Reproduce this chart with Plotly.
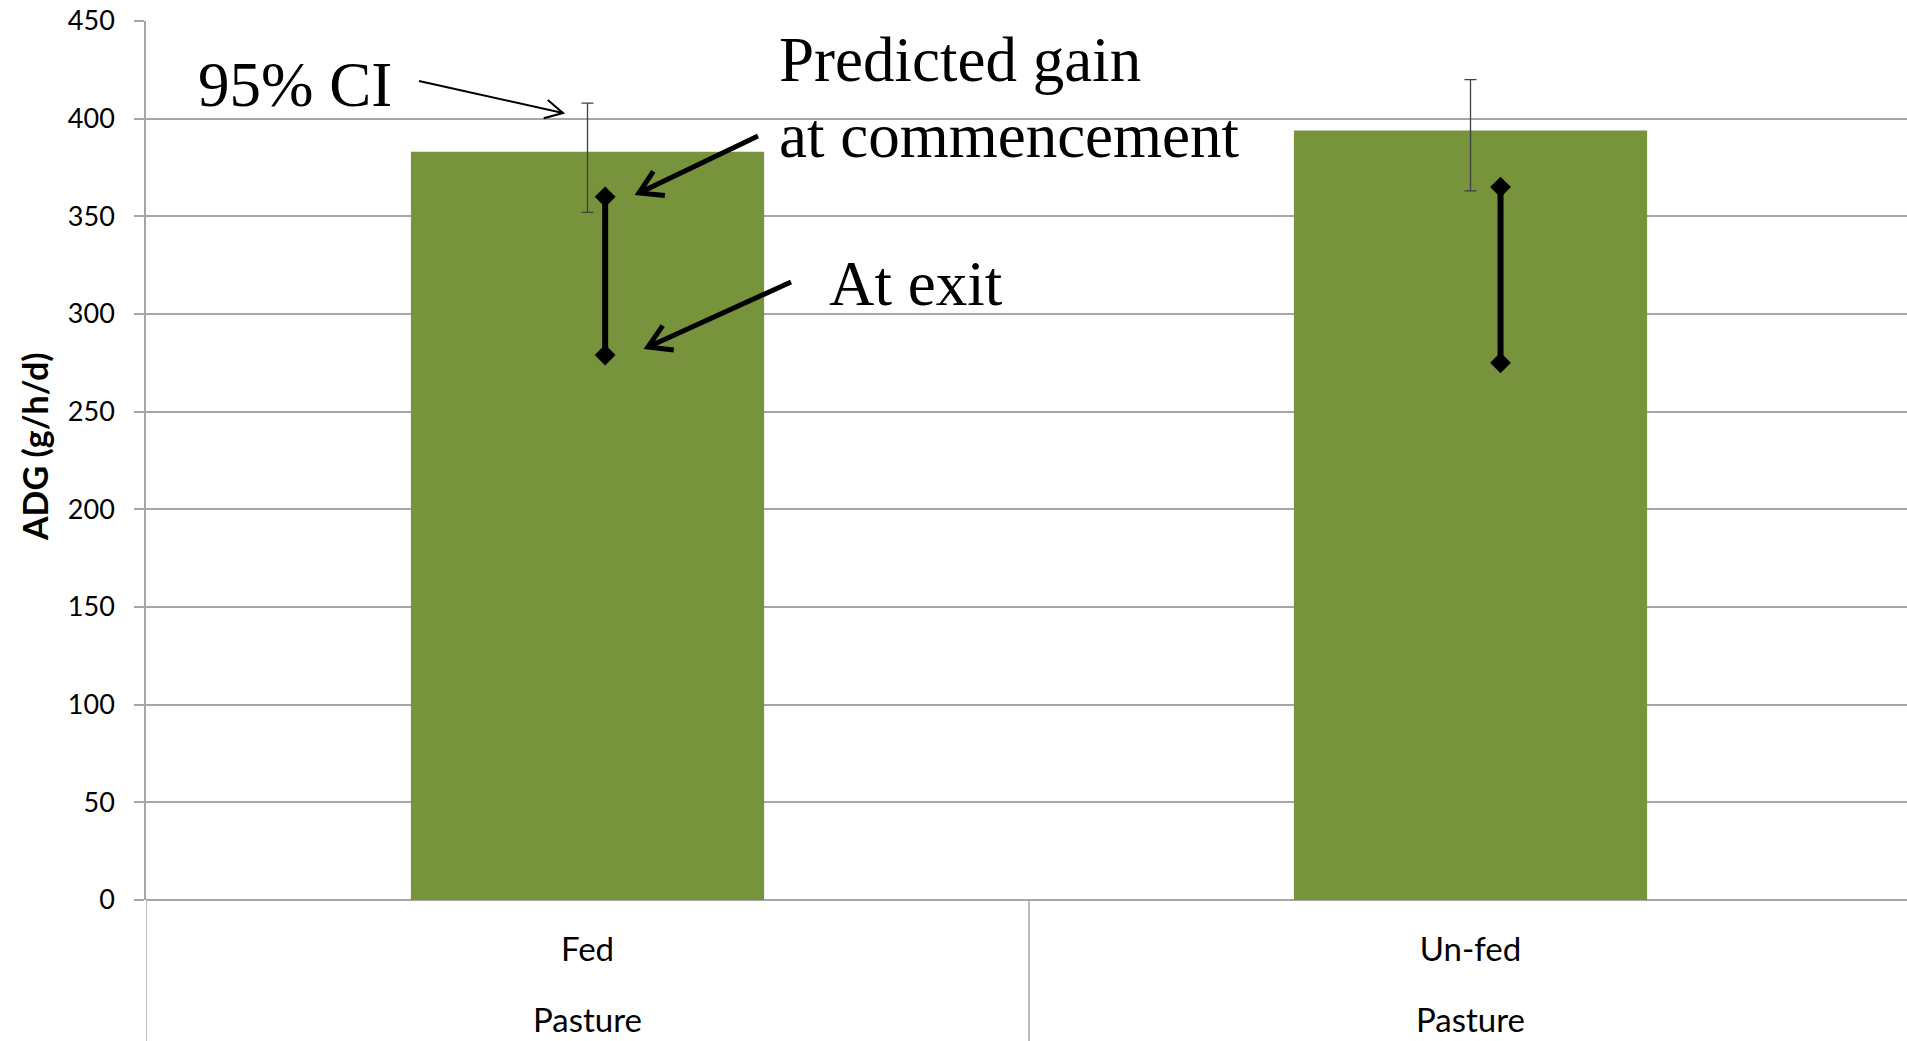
import math
import plotly.graph_objects as go

# ---------------- data ----------------
categories = ["Fed", "Un-fed"]
group_labels = ["Pasture", "Pasture"]
adg_mean = [383, 394]            # bar height, ADG (g/h/d)
ci_upper = [408, 420]            # 95% CI upper bound
ci_lower = [352, 363]            # 95% CI lower bound
gain_commencement = [360, 365]   # predicted gain at commencement
gain_exit = [279, 275]           # predicted gain at exit
y_ticks = [0, 50, 100, 150, 200, 250, 300, 350, 400, 450]
y_title = "ADG (g/h/d)"

# ---------------- layout geometry ----------------
W, H = 1907, 1041
L, T, B, R = 146, 21, 141, 0
PW, PH = W - L - R, H - T - B
PITCH = 883  # px per category
X_RANGE = [-0.5, -0.5 + PW / PITCH]
GRID = "#a6a6a6"
BAR = "#77933c"


def px(xp, yp):
    """pixel position on the page -> paper coordinates"""
    return (xp - L) / PW, (H - B - yp) / PH


fig = go.Figure()

fig.add_trace(go.Bar(
    x=list(range(len(categories))),
    y=adg_mean,
    width=0.4,
    marker=dict(color=BAR, line=dict(width=0)),
    error_y=dict(
        type="data", symmetric=False,
        array=[u - m for u, m in zip(ci_upper, adg_mean)],
        arrayminus=[m - lo for m, lo in zip(adg_mean, ci_lower)],
        color="#404040", thickness=1.3, width=6,
    ),
    showlegend=False,
))

offsets = [0.02, 0.034]
for i in range(len(categories)):
    fig.add_trace(go.Scatter(
        x=[i + offsets[i], i + offsets[i]],
        y=[gain_commencement[i], gain_exit[i]],
        mode="lines+markers",
        line=dict(color="black", width=6),
        marker=dict(symbol="diamond", size=16, color="black"),
        showlegend=False,
    ))

shapes = []
# category dividers extending below the axis
for b in [-0.5, 0.5, 1.5]:
    shapes.append(dict(type="line", xref="x", yref="paper", x0=b, x1=b, y0=0, y1=-0.3,
                       line=dict(color=GRID, width=1.5)))


def arrow(tail, tip, width, head_len, head_ang):
    dx, dy = tail[0] - tip[0], tail[1] - tip[1]
    n = math.hypot(dx, dy)
    ux, uy = dx / n, dy / n
    pts = []
    for s in (1, -1):
        a = math.radians(head_ang) * s
        wx = ux * math.cos(a) - uy * math.sin(a)
        wy = ux * math.sin(a) + uy * math.cos(a)
        pts.append((tip[0] + wx * head_len, tip[1] + wy * head_len))

    def p(pt):
        q = px(*pt)
        return f"{q[0]:.5f},{q[1]:.5f}"

    shaft = f"M{p(tail)} L{p(tip)}"
    head = f"M{p(pts[0])} L{p(tip)} L{p(pts[1])}"
    for path in (shaft, head):
        shapes.append(dict(type="path", xref="paper", yref="paper", path=path,
                           line=dict(color="black", width=width)))


arrow((419, 81), (563, 113), 2, 20, 28)
arrow((758, 136), (639, 193), 5, 26, 31)
arrow((791, 282), (648, 347), 5, 26, 31)

annotations = []
serif = dict(family="Liberation Serif, Times New Roman, serif", size=63, color="black")
for text, (xl, yc) in [("95% CI", (196, 85)),
                       ("Predicted gain", (777, 60)),
                       ("at commencement", (777, 136)),
                       ("At exit", (827, 284))]:
    ax_, ay_ = px(xl, yc)
    annotations.append(dict(text=text, x=ax_, y=ay_, xref="paper", yref="paper",
                            xanchor="left", yanchor="middle", showarrow=False, font=serif))

for i, g in enumerate(group_labels):
    annotations.append(dict(text=g, x=i, y=px(0, 1019)[1], xref="x", yref="paper",
                            xanchor="center", yanchor="middle", showarrow=False,
                            font=dict(family="Lato, sans-serif", size=33, color="black")))

# y-axis title
tx, ty = px(34, 447)
annotations.append(dict(text=f"<b>{y_title}</b>", x=tx, y=ty, xref="paper", yref="paper",
                        xanchor="center", yanchor="middle", textangle=-90, showarrow=False,
                        font=dict(family="Lato, sans-serif", size=34, color="black")))

fig.update_layout(
    width=W, height=H,
    margin=dict(l=L, r=R, t=T, b=B, pad=0),
    paper_bgcolor="white", plot_bgcolor="white",
    shapes=shapes,
    annotations=annotations,
    xaxis=dict(
        range=X_RANGE, tickvals=list(range(len(categories))), ticktext=categories,
        showgrid=False, zeroline=False, showline=False, ticks="",
        tickfont=dict(family="Lato, sans-serif", size=33, color="black"),
        ticklabelstandoff=27,
    ),
    yaxis=dict(
        range=[0, 450], tickvals=y_ticks, showgrid=True, gridcolor=GRID, gridwidth=1.5,
        zeroline=True, zerolinecolor=GRID, zerolinewidth=1.5,
        showline=True, linecolor=GRID, linewidth=1.5,
        ticks="outside", ticklen=10, tickcolor=GRID, tickwidth=1.5,
        tickfont=dict(family="Lato, sans-serif", size=27, color="black"),
        ticklabelstandoff=14,
    ),
)

fig.write_html("out.html",
               config={"displayModeBar": False},
               post_script="document.body.style.margin='0';document.body.style.overflow='hidden';")
